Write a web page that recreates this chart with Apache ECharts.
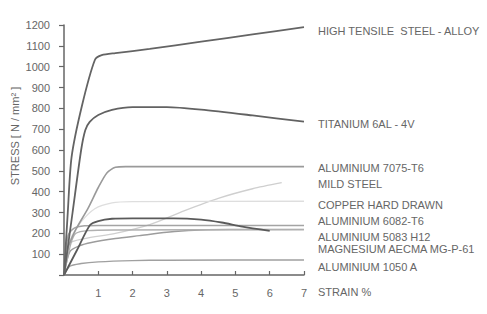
<!DOCTYPE html>
<html>
<head>
<meta charset="utf-8">
<script src="https://cdn.jsdelivr.net/npm/echarts@6/dist/echarts.min.js"></script>
<style>
html,body{margin:0;padding:0;background:#fff;}
#chart{width:487px;height:314px;}
</style>
</head>
<body>
<div id="chart"></div>
<script>
// Tick labels
const xTicks = [1, 2, 3, 4, 5, 6, 7];
const yTicks = [100, 200, 300, 400, 500, 600, 700, 800, 900, 1000, 1100, 1200];

// Series data: [strain %, stress N/mm²]
const highTensile = [[0,0],[0.11,300],[0.22,565],[0.52,810],[0.9,1032],[1.1,1055],[1.5,1065],[2.5,1085],[4,1120],[5.5,1155],[7,1190]];
const titanium = [[0,0],[0.25,300],[0.5,600],[0.62,695],[0.75,735],[1,768],[1.4,793],[2,806],[3,806],[4,794],[5.5,766],[7,736]];
const alu7075 = [[0,0],[0.12,130],[0.35,220],[0.7,320],[1.0,420],[1.25,490],[1.5,517],[1.8,520],[7,520]];
const mildSteel = [[0,0],[0.15,150],[0.6,175],[1.5,200],[2.5,242],[3.5,308],[4.5,368],[5.5,414],[6.35,443]];
const copper = [[0,0],[0.2,175],[0.5,255],[0.9,318],[1.4,346],[2,352],[7,354]];
const alu6082 = [[0,0],[0.38,120],[0.76,240],[1.0,259],[1.4,270],[2,272],[3.2,272],[4,266],[4.6,252],[5.2,232],[6,212]];
const alu5083 = [[0,0],[0.12,190],[0.3,225],[0.6,236],[1,238],[7,238]];
const magnesium = [[0,0],[0.17,112],[0.45,140],[0.8,156],[1.5,175],[2.2,189],[3,205],[3.8,215],[4.8,218],[7,219]];
const magnesiumB = [[0,0],[0.2,150],[0.35,200],[0.7,213],[1.5,216],[7,218]];
const alu1050 = [[0,0],[0.17,42],[0.5,55],[1,63],[2,69],[3,71],[7,72]];

// Right-hand labels
const labelTexts = ['HIGH TENSILE  STEEL - ALLOY','TITANIUM 6AL - 4V','ALUMINIUM 7075-T6','MILD STEEL','COPPER HARD DRAWN','ALUMINIUM 6082-T6','ALUMINIUM 5083 H12','MAGNESIUM AECMA MG-P-61','ALUMINIUM 1050 A'];
const labelY = [31, 124, 168, 184, 205, 221, 237, 249, 267];

const chart = echarts.init(document.getElementById('chart'), null, {renderer: 'svg'});

function line(name, data, color, width, smooth) {
  return {
    name: name, type: 'line', data: data, showSymbol: false, symbol: 'none',
    smooth: smooth,
    lineStyle: {color: color, width: width}, z: 2
  };
}

const font = 'Liberation Sans, Arial, sans-serif';

const option = {
  animation: false,
  backgroundColor: '#fff',
  grid: {left: 64, right: 183, top: 25, bottom: 39, containLabel: false},
  xAxis: {
    type: 'value', min: 0, max: 7, interval: 1,
    axisLine: {show: true, lineStyle: {color: '#666', width: 1.5}},
    axisTick: {show: true, inside: true, length: 4, lineStyle: {color: '#666', width: 1.2}},
    axisLabel: {color: '#666', fontSize: 11, fontFamily: font, margin: 12,
      formatter: v => xTicks.indexOf(v) >= 0 ? String(v) : ''},
    splitLine: {show: false}
  },
  yAxis: {
    type: 'value', min: 0, max: 1200, interval: 100,
    axisLine: {show: true, lineStyle: {color: '#666', width: 1.5}},
    axisTick: {show: true, inside: false, length: 5, lineStyle: {color: '#666', width: 1.2}},
    axisLabel: {color: '#666', fontSize: 11, fontFamily: font, margin: 14,
      formatter: v => yTicks.indexOf(v) >= 0 ? String(v) : ''},
    splitLine: {show: false}
  },
  series: [
    line('MILD STEEL', mildSteel, '#cfcfcf', 1.3, 0.25),
    line('COPPER HARD DRAWN', copper, '#dedede', 1.3, 0.25),
    line('ALUMINIUM 1050 A', alu1050, '#a0a0a0', 1.5, 0.25),
    line('MAGNESIUM AECMA MG-P-61', magnesium, '#9c9c9c', 1.5, 0.25),
    line('MAGNESIUM B', magnesiumB, '#b0b0b0', 1.3, 0.25),
    line('ALUMINIUM 5083 H12', alu5083, '#a4a4a4', 1.5, 0.25),
    line('ALUMINIUM 7075-T6', alu7075, '#9a9a9a', 1.6, 0.25),
    line('ALUMINIUM 6082-T6', alu6082, '#5a5a5a', 1.8, 0.25),
    line('TITANIUM 6AL - 4V', titanium, '#626262', 1.8, 0.25),
    line('HIGH TENSILE STEEL - ALLOY', highTensile, '#646464', 1.8, 0.25)
  ],
  graphic: [
    {type: 'text', x: 318, y: 292,
      style: {text: 'STRAIN %', fill: '#666', font: '11px ' + font, textAlign: 'left', textVerticalAlign: 'middle'}},
    {type: 'text', x: 15, y: 136, rotation: Math.PI / 2,
      style: {text: 'STRESS [ N / mm² ]', fill: '#666', font: '11px ' + font, textAlign: 'center', textVerticalAlign: 'middle'}}
  ].concat(labelTexts.map((t, i) => ({
    type: 'text', x: 318, y: labelY[i],
    style: {text: t, fill: '#666', font: '11px ' + font, textAlign: 'left', textVerticalAlign: 'middle'}
  })))
};
chart.setOption(option);
</script>
</body>
</html>
